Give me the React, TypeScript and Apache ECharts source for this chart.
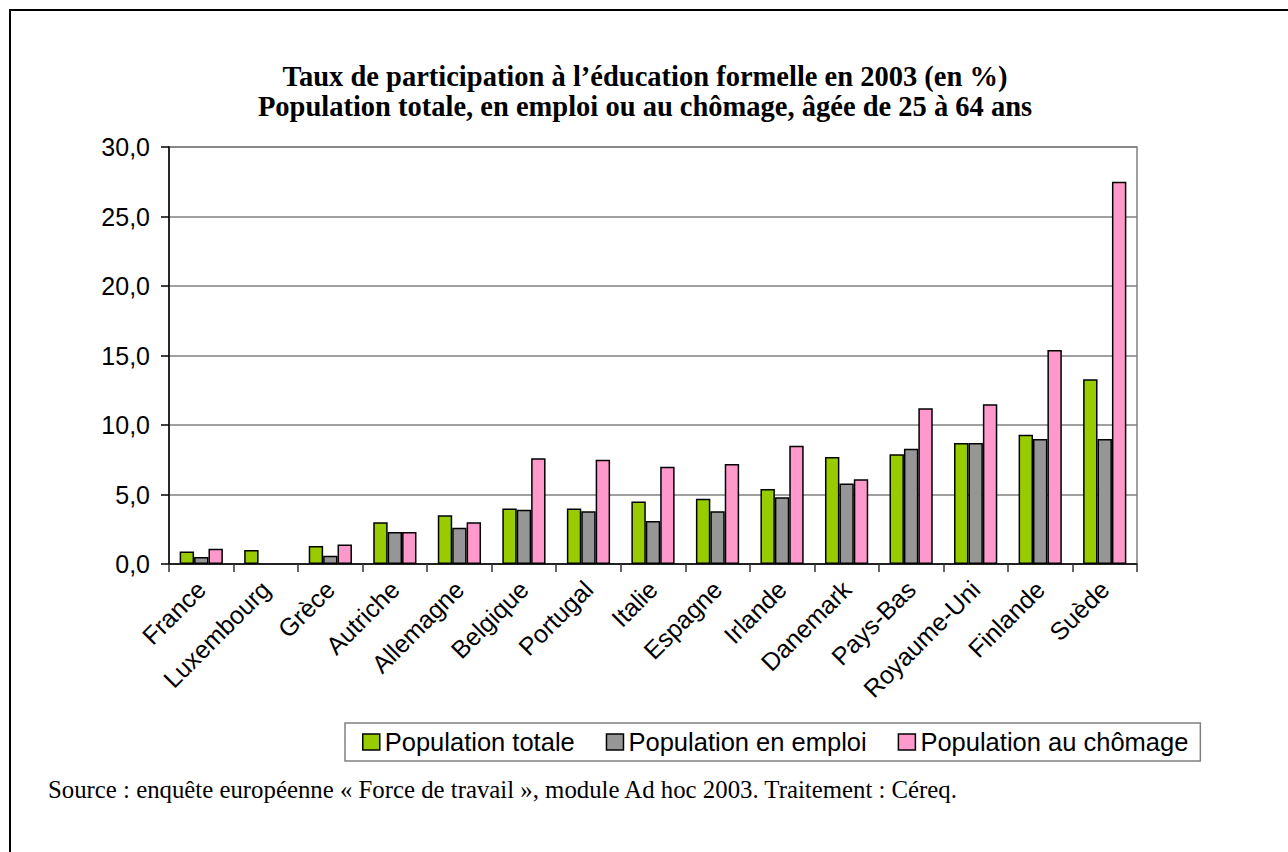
import React, { useEffect, useRef } from "react";
import * as echarts from "echarts";

const categories = [
  "France", "Luxembourg", "Grèce", "Autriche", "Allemagne", "Belgique", "Portugal",
  "Italie", "Espagne", "Irlande", "Danemark", "Pays-Bas", "Royaume-Uni", "Finlande", "Suède",
];
const seriesNames = ["Population totale", "Population en emploi", "Population au chômage"];
const popTotale = [0.9, 1.0, 1.3, 3.0, 3.5, 4.0, 4.0, 4.5, 4.7, 5.4, 7.7, 7.9, 8.7, 9.3, 13.3];
const popEmploi = [0.5, null, 0.6, 2.3, 2.6, 3.9, 3.8, 3.1, 3.8, 4.8, 5.8, 8.3, 8.7, 9.0, 9.0];
const popChomage = [1.1, null, 1.4, 2.3, 3.0, 7.6, 7.5, 7.0, 7.2, 8.5, 6.1, 11.2, 11.5, 15.4, 27.5];
const colors = ["#99CC00", "#969696", "#FF99CC"];
const titleLines = [
  "Taux de participation à l\u2019éducation formelle en 2003 (en %)",
  "Population totale, en emploi ou au chômage, âgée de 25 à 64 ans",
];
const sourceText =
  "Source : enquête européenne « Force de travail », module Ad hoc 2003. Traitement : Céreq.";

export default function App() {
  const ref = useRef<HTMLDivElement>(null);
  useEffect(() => {
    if (!ref.current) return;
    const chart = echarts.init(ref.current, null, { renderer: "svg" });
    const sans = "Arial, 'Liberation Sans', sans-serif";
    const serif = "'Times New Roman', 'Liberation Serif', serif";
    const data = [popTotale, popEmploi, popChomage];
    chart.setOption({
      animation: false,
      backgroundColor: "#ffffff",
      title: {
        text: titleLines.join("\n"),
        left: 640,
        top: 56,
        textAlign: "center",
        textStyle: {
          fontFamily: serif,
          fontWeight: "bold",
          fontSize: 28.5,
          lineHeight: 30,
          color: "#000",
        },
      },
      legend: {
        data: seriesNames,
        left: 345,
        top: 723,
        icon: "rect",
        itemWidth: 17,
        itemHeight: 16,
        itemGap: 31,
        borderColor: "#808080",
        borderWidth: 1.5,
        padding: [6, 12, 6, 17],
        itemStyle: { borderColor: "#000", borderWidth: 1.5 },
        textStyle: {
          fontFamily: sans,
          fontSize: 25.5,
          color: "#000",
          lineHeight: 26,
        },
      },
      grid: {
        left: 169,
        right: 151,
        top: 147,
        bottom: 288,
        show: true,
        borderColor: "#808080",
        borderWidth: 1.5,
        outerBoundsMode: "none",
      },
      xAxis: {
        type: "category",
        data: categories,
        axisLine: { show: true, lineStyle: { color: "#000", width: 1.5 } },
        axisTick: { show: true, length: 8, lineStyle: { color: "#333", width: 1.5 } },
        axisLabel: {
          rotate: 45,
          margin: 21,
          interval: 0,
          fontFamily: sans,
          fontSize: 25,
          color: "#000",
        },
      },
      yAxis: {
        type: "value",
        min: 0,
        max: 30,
        interval: 5,
        axisLine: { show: true, lineStyle: { color: "#000", width: 1.5 } },
        axisTick: { show: true, length: 8, lineStyle: { color: "#000", width: 1.5 } },
        splitLine: { show: true, lineStyle: { color: "#808080", width: 1.5 } },
        axisLabel: {
          margin: 19,
          fontFamily: sans,
          fontSize: 25,
          color: "#000",
          formatter: (v: number) => v.toFixed(1).replace(".", ","),
        },
      },
      series: seriesNames.map((name, i) => ({
        name,
        type: "bar",
        data: data[i].map((v) => (v === null ? "-" : v)),
        barGap: "0%",
        barCategoryGap: "33%",
        itemStyle: { color: colors[i], borderColor: "#000", borderWidth: 1.5 },
      })),
      graphic: [
        {
          type: "line",
          shape: { x1: 9, y1: 10, x2: 1288, y2: 10 },
          style: { stroke: "#000", lineWidth: 2 },
        },
        {
          type: "line",
          shape: { x1: 10, y1: 9, x2: 10, y2: 852 },
          style: { stroke: "#000", lineWidth: 2 },
        },
        {
          type: "text",
          x: 48,
          y: 789,
          style: {
            text: sourceText,
            fontFamily: serif,
            fontSize: 24.8,
            fill: "#000",
            textVerticalAlign: "middle",
          },
        },
      ],
    });
    return () => chart.dispose();
  }, []);
  return (
    <div
      ref={ref}
      style={{ position: "absolute", left: 0, top: 0, width: 1288, height: 852 }}
    />
  );
}
